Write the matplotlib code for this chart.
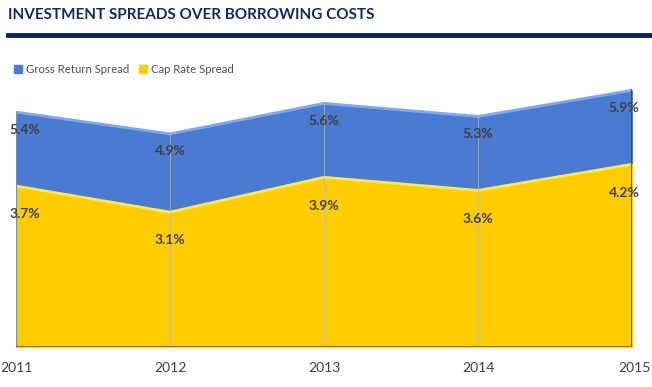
import matplotlib
matplotlib.use('Agg')
import matplotlib.pyplot as plt
from matplotlib.transforms import ScaledTranslation

### Data
years = ['2011', '2012', '2013', '2014', '2015']
gross_return = [5.4, 4.9, 5.6, 5.3, 5.9]
cap_rate = [3.7, 3.1, 3.9, 3.6, 4.2]

blue = '#4a7bd0'
yellow = '#ffcc00'
navy = '#0f2a5e'
txt = '#404040'

plt.rcParams['font.family'] = ['Lato', 'DejaVu Sans']

fig = plt.figure(figsize=(6.52, 3.87), dpi=100)

# title and rule
fig.text(8 / 652, 1 - 15 / 387, 'INVESTMENT SPREADS OVER BORROWING COSTS',
         fontsize=11, fontweight='bold', color=navy, va='center', ha='left')
fig.add_artist(plt.Line2D([8 / 652, 1], [1 - 35 / 387] * 2, color='#0a2160', lw=3.5))

ax = fig.add_axes([16 / 652, 40 / 387, 616 / 652, 6.5 * 43.5 / 387])
x = list(range(len(years)))

ax.fill_between(x, 0, gross_return, color=blue, zorder=1, label='Gross Return Spread')
ax.plot(x, gross_return, color='#7fa8ee', lw=2, zorder=2)
ax.fill_between(x, 0, cap_rate, color=yellow, zorder=3, label='Cap Rate Spread')
ax.plot(x, cap_rate, color='#ffe85a', lw=2, zorder=4)

# faint grid lines inside the areas only
ax.vlines(x[1:-1], 0, gross_return[1:-1], color='#b8b8b8', lw=0.7, alpha=0.7, zorder=5)

# side shadows and base
ax.plot([x[0], x[0]], [0, gross_return[0]], color='#7a90b8', lw=1, zorder=6)
ax.plot([x[-1], x[-1]], [0, gross_return[-1]], color='#3a4a66', lw=2, zorder=6)
ax.plot([x[0], x[-1]], [0, 0], color='#8a7a40', lw=1.5, zorder=6)

ax.set_xlim(0, 4)
ax.set_ylim(0, 6.5)
for s in ax.spines.values():
    s.set_visible(False)
ax.set_yticks([])
ax.set_xticks(x)
ax.set_xticklabels(years, fontsize=10, color=txt)
ax.tick_params(axis='x', length=0, pad=11)
first, last = ax.get_xticklabels()[0], ax.get_xticklabels()[-1]
first.set_ha('left')
first.set_transform(first.get_transform() + ScaledTranslation(-0.16, 0, fig.dpi_scale_trans))
last.set_ha('right')
last.set_transform(last.get_transform() + ScaledTranslation(0.19, 0, fig.dpi_scale_trans))

# data labels
for i, (g, c) in enumerate(zip(gross_return, cap_rate)):
    ha = 'center'
    xo = i
    if i == 0:
        ha, xo = 'left', -0.045
    elif i == len(x) - 1:
        ha, xo = 'right', 4.05
    ax.text(xo, g - 0.4, f'{g}%', ha=ha, va='center', fontsize=10,
            fontweight='bold', color=txt, zorder=10, clip_on=False)
    ax.text(xo, c - 0.65, f'{c}%', ha=ha, va='center', fontsize=10,
            fontweight='bold', color=txt, zorder=10, clip_on=False)

leg = ax.legend(loc='upper left', bbox_to_anchor=(-0.01, 1.018), ncol=2,
                frameon=False, fontsize=8.2, handlelength=0.7, handleheight=0.7,
                handletextpad=0.35, columnspacing=0.8, borderaxespad=0)
for t in leg.get_texts():
    t.set_color('#505050')

fig.savefig('out.png', dpi=100)
